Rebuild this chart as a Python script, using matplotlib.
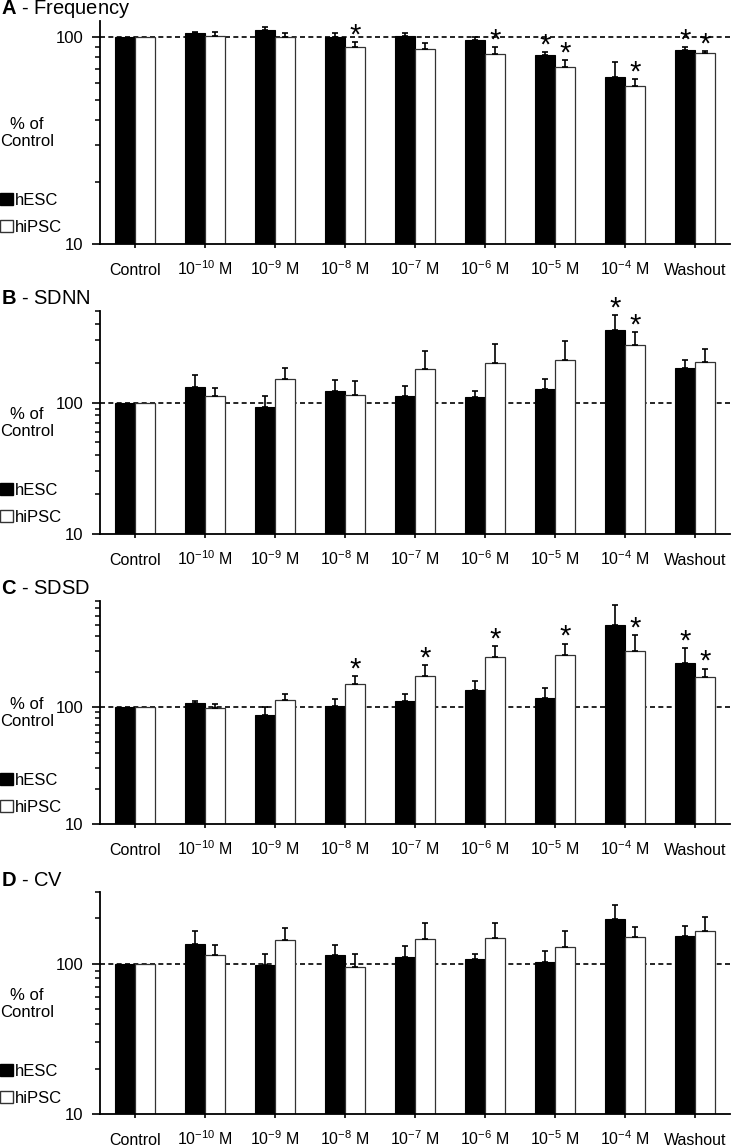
import numpy as np
import matplotlib
matplotlib.use("Agg")
import matplotlib.pyplot as plt
from matplotlib.patches import Patch
from matplotlib.ticker import FixedLocator, LogLocator, NullFormatter

plt.rcParams['font.family'] = ['Liberation Sans', 'DejaVu Sans']
plt.rcParams['mathtext.fontset'] = 'custom'
plt.rcParams['mathtext.rm'] = 'Liberation Sans'
plt.rcParams['mathtext.it'] = 'Liberation Sans:italic'
plt.rcParams['mathtext.bf'] = 'Liberation Sans:bold'

categories = ['Control', r'$10^{-10}$ M', r'$10^{-9}$ M', r'$10^{-8}$ M', r'$10^{-7}$ M',
              r'$10^{-6}$ M', r'$10^{-5}$ M', r'$10^{-4}$ M', 'Washout']
series_names = ['hESC', 'hiPSC']

# A - Frequency (% of control, upper SEM)
freq_hesc = [100, 104.5, 108.5, 100, 101.5, 97, 81.8, 64.6, 86.5]
freq_hesc_err = [0, 2, 4.1, 4.5, 3, 3, 2.8, 11.7, 3.5]
freq_hipsc = [100, 102, 100, 90, 87.5, 82.8, 71.6, 58.2, 83.7]
freq_hipsc_err = [0, 4.5, 5, 5, 6, 6.7, 6.1, 4.5, 2.5]
freq_stars_hesc = [6, 8]
freq_stars_hipsc = [3, 5, 6, 7, 8]

# B - SDNN
sdnn_hesc = [100, 132, 93.2, 122.6, 112, 111, 127, 356, 184]
sdnn_hesc_err = [0, 30, 18.5, 26, 22.6, 11, 24, 107, 29]
sdnn_hipsc = [100, 112, 152, 114.3, 182, 202, 210, 277, 205]
sdnn_hipsc_err = [0, 16.5, 33, 32.7, 66, 79, 87, 67, 52]
sdnn_stars_hesc = [7]
sdnn_stars_hipsc = [7]

# C - SDSD
sdsd_hesc = [100, 106.8, 85.5, 102.6, 111.8, 140.5, 119.3, 496, 237]
sdsd_hesc_err = [0, 6.2, 13.2, 15.1, 16.2, 24, 26.7, 245, 79]
sdsd_hipsc = [100, 98, 114.7, 158, 184, 267, 277, 302, 180]
sdsd_hipsc_err = [0, 7.4, 13.3, 24.5, 42, 62, 69, 109, 32]
sdsd_stars_hesc = [8]
sdsd_stars_hipsc = [3, 4, 5, 6, 7, 8]

# D - CV
cv_hesc = [100, 135.6, 98.5, 114, 110, 106.8, 102.6, 199, 154]
cv_hesc_err = [0, 30.4, 17.5, 19.5, 20.8, 9.2, 18.4, 45, 24]
cv_hipsc = [100, 114.6, 144.8, 95.5, 146.3, 148.5, 128.8, 150.8, 165]
cv_hipsc_err = [0, 18.2, 27.2, 20.5, 41.2, 39, 37.2, 24.7, 39]
cv_stars_hesc = []
cv_stars_hipsc = []

W, H = 731, 1147
fig = plt.figure(figsize=(W / 100, H / 100), dpi=100)


def draw_panel(top_px, bot_px, letter, name, ymax, hesc, hesc_err, hipsc, hipsc_err,
               stars_hesc, stars_hipsc):
    ax = fig.add_axes([100 / W, 1 - bot_px / H, 630 / W, (bot_px - top_px) / H])
    ax.set_yscale('log')
    x = np.arange(len(categories))
    w = 0.286

    ax.axhline(100, color='black', ls=(0, (3, 2)), lw=1.2, zorder=0.5)
    ax.bar(x - w / 2, hesc, w, color='black', edgecolor='black', lw=0.8, zorder=2)
    ax.bar(x + w / 2, hipsc, w, color='white', edgecolor='#333333', lw=0.9, zorder=2)

    for off, vals, errs, stars in [(-w / 2, hesc, hesc_err, stars_hesc),
                                   (w / 2, hipsc, hipsc_err, stars_hipsc)]:
        vals = np.array(vals, dtype=float)
        errs = np.array(errs, dtype=float)
        m = errs > 0
        ax.errorbar(x[m] + off, vals[m], yerr=[np.zeros(m.sum()), errs[m]], fmt='none',
                    ecolor='black', elinewidth=1.2, capsize=2.5, capthick=1.2, zorder=3)
        for i in stars:
            ax.annotate('*', xy=(x[i] + off, vals[i] + errs[i]), xytext=(0, -1),
                        textcoords='offset points', ha='center', va='baseline',
                        fontsize=21)

    ax.set_xlim(-0.5, 8.5)
    ax.set_ylim(10, ymax)
    ax.yaxis.set_major_locator(FixedLocator([10, 100]))
    ax.set_yticklabels(['10', '100'])
    ax.yaxis.set_minor_locator(LogLocator(base=10, subs=np.arange(2, 10)))
    ax.yaxis.set_minor_formatter(NullFormatter())
    ax.set_xticks(x)
    ax.set_xticklabels(categories)
    for lab in ax.get_xticklabels():
        lab.set_verticalalignment('baseline')

    ax.tick_params(axis='y', which='major', direction='out', length=6, width=1.2,
                   labelsize=12, pad=6)
    ax.tick_params(axis='y', which='minor', direction='out', length=3.5, width=1.1)
    ax.tick_params(axis='x', direction='out', length=3, width=1.2, labelsize=11.5, pad=19)
    for s in ['top', 'right']:
        ax.spines[s].set_visible(False)
    for s in ['left', 'bottom']:
        ax.spines[s].set_linewidth(1.3)

    fig.text(0.002, 1 - (top_px - 12) / H, r'$\mathbf{' + letter + '}$ - ' + name,
             ha='left', va='center', fontsize=14.5)
    fig.text(27 / W, 1 - (top_px + 112) / H, '% of\nControl', ha='center', va='center',
             fontsize=12, linespacing=1.15)
    handles = [Patch(facecolor='black', edgecolor='black'),
               Patch(facecolor='white', edgecolor='#333333')]
    fig.legend(handles, series_names, loc='center left',
               bbox_to_anchor=(0.0, 1 - (top_px + 193) / H), frameon=False,
               handlelength=0.75, handleheight=0.75, handletextpad=0.15, labelspacing=0.7,
               borderpad=0, borderaxespad=0, fontsize=12)
    return ax


draw_panel(21, 244, 'A', 'Frequency', 120, freq_hesc, freq_hesc_err, freq_hipsc,
           freq_hipsc_err, freq_stars_hesc, freq_stars_hipsc)
draw_panel(311, 534, 'B', 'SDNN', 500, sdnn_hesc, sdnn_hesc_err, sdnn_hipsc,
           sdnn_hipsc_err, sdnn_stars_hesc, sdnn_stars_hipsc)
draw_panel(601, 824, 'C', 'SDSD', 800, sdsd_hesc, sdsd_hesc_err, sdsd_hipsc,
           sdsd_hipsc_err, sdsd_stars_hesc, sdsd_stars_hipsc)
draw_panel(892, 1114, 'D', 'CV', 300, cv_hesc, cv_hesc_err, cv_hipsc,
           cv_hipsc_err, cv_stars_hesc, cv_stars_hipsc)

fig.savefig('out.png', dpi=100)
